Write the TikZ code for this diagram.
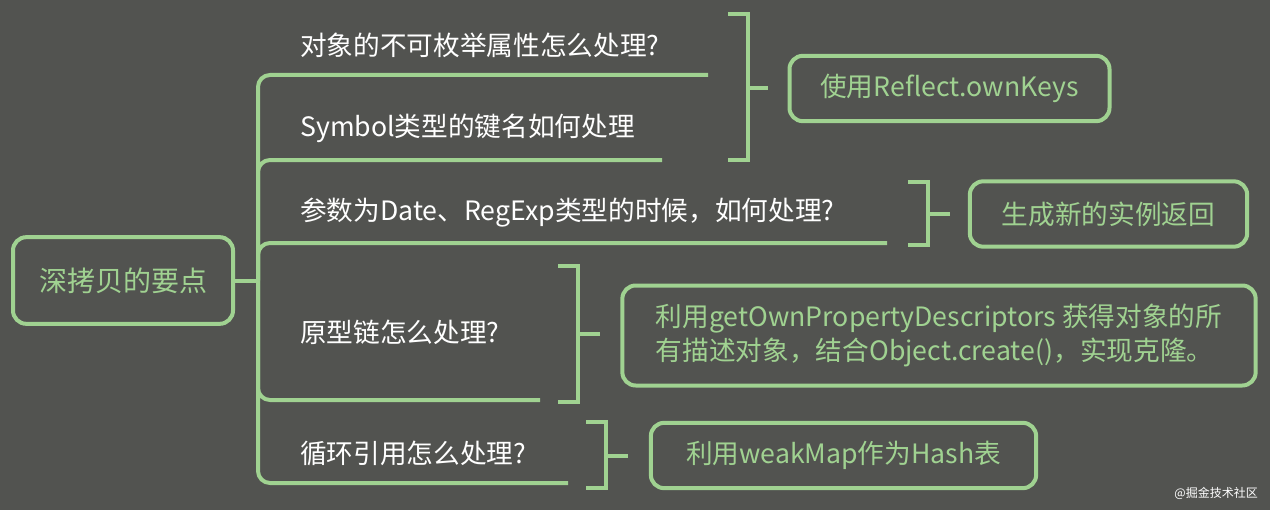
\documentclass[tikz,border=0pt]{standalone}
\usepackage{fontspec}
\setmainfont{Noto Sans CJK SC}
\definecolor{bgcol}{HTML}{525350}
\definecolor{leafcol}{HTML}{A0D291}
\tikzset{
  line/.style={draw=leafcol, line width=3pt},
  branch/.style={line, rounded corners=9pt},
  rootbox/.style={line, rounded corners=10pt, minimum width=165pt, minimum height=65pt,
    text=leafcol, font=\fontsize{21}{24}\selectfont},
  answer/.style={line, rounded corners=10pt, text=leafcol, font=\fontsize{20}{26}\selectfont},
  question/.style={anchor=west, inner sep=0pt, text=white, font=\fontsize{20}{24}\selectfont}
}
\begin{document}
\begin{tikzpicture}[x=0.75pt, y=-0.75pt]
  \fill[bgcol] (0,0) rectangle (1270,510);
  \useasboundingbox (0,0) rectangle (1270,510);
  % root and questions
  \node[rootbox] (root) at (123,280.5) {深拷贝的要点};
  \coordinate (j) at (258,280.5);
  \node[question] (q1) at (300,45) {对象的不可枚举属性怎么处理?};
  \node[question] (q2) at (300,128) {Symbol类型的键名如何处理};
  \node[question] (q3) at (300,213) {参数为Date、RegExp类型的时候，如何处理?};
  \node[question] (q4) at (300,332) {原型链怎么处理?};
  \node[question] (q5) at (300,453) {循环引用怎么处理?};
  \coordinate (u1) at (708,75);
  \coordinate (u2) at (662,160);
  \coordinate (u3) at (887,243);
  \coordinate (u4) at (540,400);
  \coordinate (u5) at (568,483);
  \draw[line] (root.east) -- (j);
  \draw[branch] (j) |- (u1);
  \draw[branch] (j) |- (u2);
  \draw[branch] (j) |- (u3);
  \draw[branch] (j) |- (u4);
  \draw[branch] (j) |- (u5);
  % answers
  \node[answer, minimum width=240pt, minimum height=49pt] (a1) at (949.5,88.5) {使用Reflect.ownKeys};
  \node[answer, minimum width=208pt, minimum height=49pt] (a2) at (1108.5,214) {生成新的实例返回};
  \node[answer, minimum width=475pt, minimum height=75pt, align=left] (a3) at (939,335.5)
    {利用getOwnPropertyDescriptors 获得对象的所\\有描述对象，结合Object.create()，实现克隆。};
  \node[answer, minimum width=289pt, minimum height=49pt] (a5) at (843.5,455.5) {利用weakMap作为Hash表};
  % brackets
  \coordinate (k1) at (768,88.5);
  \coordinate (k2) at (950,214);
  \coordinate (k3) at (600,334);
  \coordinate (k5) at (628,455.5);
  \draw[line] (728,14) -- (748,14) -- (748,160) -- (728,160);
  \draw[line] (748,88.5) -- (k1);
  \draw[line] (908,182) -- (928,182) -- (928,245) -- (908,245);
  \draw[line] (928,214) -- (k2);
  \draw[line] (558,266) -- (578,266) -- (578,402) -- (558,402);
  \draw[line] (578,334) -- (k3);
  \draw[line] (586,422) -- (606,422) -- (606,488) -- (586,488);
  \draw[line] (606,455.5) -- (k5);
  \node[anchor=east, inner sep=0pt, text=white, font=\fontsize{9}{10}\selectfont] (mark) at (1258,493) {@掘金技术社区};
\end{tikzpicture}
\end{document}
